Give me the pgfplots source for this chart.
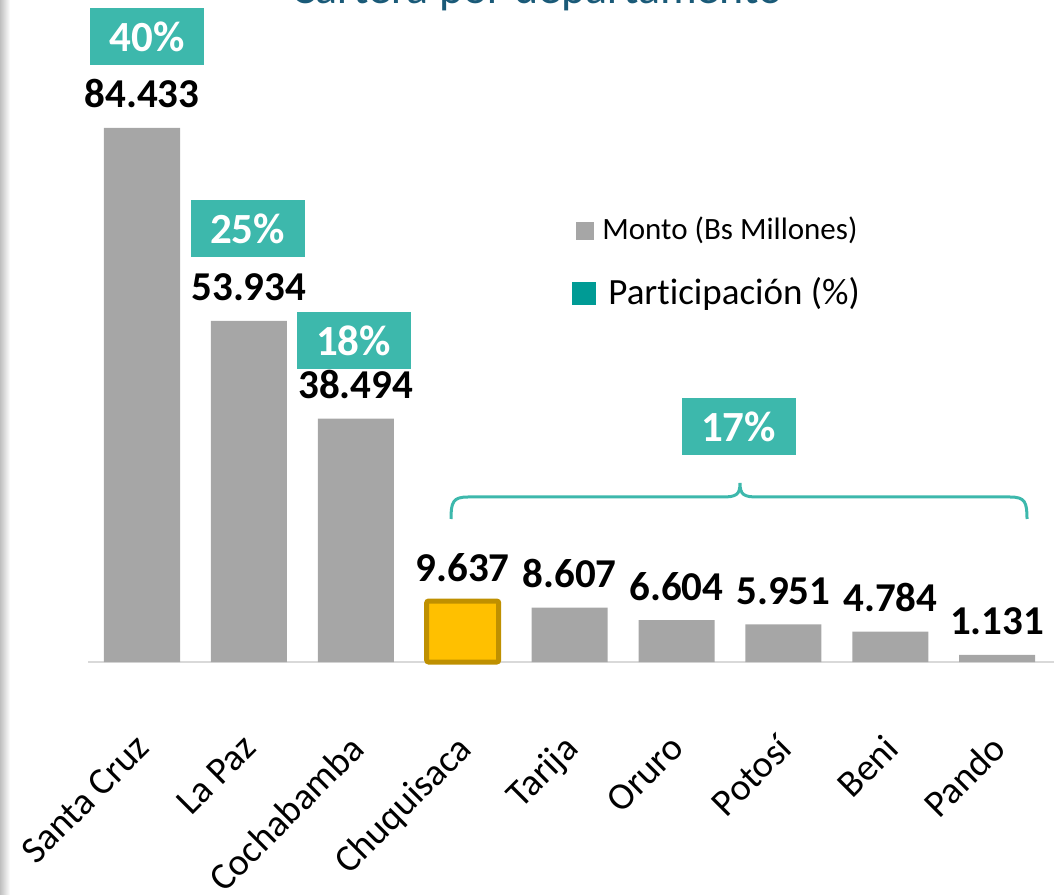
\documentclass[border=0pt]{standalone}
\usepackage{fontspec}
\setmainfont{Carlito}[Ligatures=CommonOff]
\usepackage{pgfplots}
\pgfplotsset{compat=1.18}
\definecolor{barGray}{HTML}{A6A6A6}
\definecolor{gold}{HTML}{FFC000}
\definecolor{goldEdge}{HTML}{BF9000}
\definecolor{tealBox}{HTML}{3DB8AC}
\definecolor{tealDark}{HTML}{009B95}
\definecolor{titleBlue}{HTML}{1A5A78}

\begin{document}
\begin{tikzpicture}
\begin{axis}[
  at={(0,0)}, anchor=origin,
  x=53.45pt, y=3.1625pt,
  xmin=-0.505, xmax=8.53, ymin=0, ymax=100,
  axis x line*=bottom, axis y line=none,
  x axis line style={draw=black!15, line width=1pt},
  xtick={0,...,8},
  xticklabels={Santa Cruz, La Paz, Cochabamba, Chuquisaca, Tarija, Oruro, Potosí, Beni, Pando},
  major tick length=0pt,
  xticklabel style={xshift=-4pt, yshift=-35pt, rotate=45, anchor=north east,
    inner sep=0pt, font=\fontsize{19}{22}\selectfont},
  ybar, bar width=38pt, bar shift=0pt,
  clip=false,
  nodes near coords, point meta=explicit symbolic,
  nodes near coords style={font=\bfseries\fontsize{20.5}{24}\selectfont, anchor=base, yshift=10pt},
]
\addplot[fill=barGray, draw=none] coordinates {
  (0,84.433)[84.433] (1,53.934)[53.934] (2,38.494)[38.494]
  (4,8.607)[8.607] (5,6.604)[6.604] (6,5.951)[5.951] (7,4.784)[4.784] (8,1.131)[1.131]};
\addplot[fill=gold, draw=goldEdge, line width=2.5pt, bar width=36pt, rounded corners=1pt]
  coordinates {(3,9.637)[9.637]};
\end{axis}

% overlay in image pixels (origin top left)
\begin{scope}[x=0.5pt, y=-0.5pt, shift={(-71pt,331pt)}]
\shade[left color=black!25, right color=white] (0,0) rectangle (10,894);
\node[anchor=base, text=titleBlue, font=\fontsize{23}{28}\selectfont] at (537,4) {Cartera por departamento};

\tikzset{pbox/.style={fill=tealBox, text=white, font=\bfseries\fontsize{21.5}{24}\selectfont,
  minimum width=57pt, minimum height=28.5pt, inner sep=0pt}}
\node[pbox] at (147,36.5) {40\%};
\node[pbox] at (247.5,229) {25\%};
\node[pbox] at (353.5,341) {18\%};
\node[pbox] at (738.5,426.5) {17\%};

\draw[tealBox, line width=1.5pt]
  (451,519) .. controls (451,502) and (453,497) .. (468,497) -- (722,497)
  .. controls (736,497) and (740,495) .. (740,483)
  .. controls (740,495) and (744,497) .. (758,497) -- (1010,497)
  .. controls (1025,497) and (1027,502) .. (1027,519);

\fill[barGray] (576,222) rectangle (594,240);
\node[anchor=base west, inner sep=0pt, font=\fontsize{15.5}{18}\selectfont] at (602,240) {Monto (Bs Millones)};
\fill[tealDark] (572,282) rectangle (596,305);
\node[anchor=base west, inner sep=0pt, font=\fontsize{18.5}{22}\selectfont] at (608,305) {Participación (\%)};

\pgfresetboundingbox
\useasboundingbox (0,0) rectangle (1054,894);
\end{scope}
\end{tikzpicture}
\end{document}
